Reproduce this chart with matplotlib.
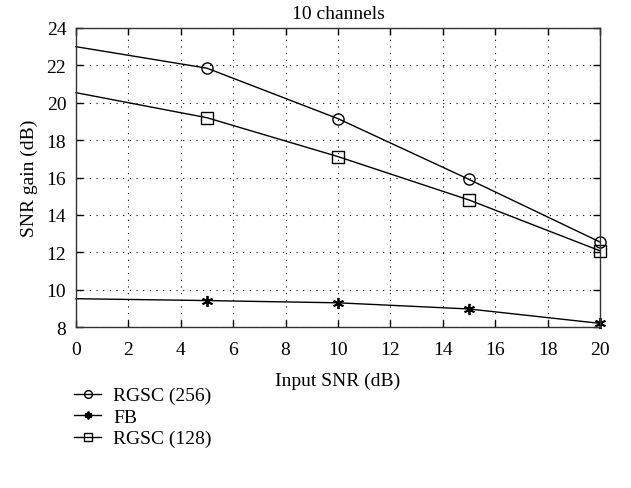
import matplotlib.pyplot as plt

plt.rcParams['font.family'] = ['Liberation Serif', 'DejaVu Serif']
plt.rcParams['font.size'] = 14

snr_in = [0, 5, 10, 15, 20]
rgsc256 = [23.0, 21.85, 19.15, 15.9, 12.55]
fb = [9.52, 9.42, 9.3, 8.97, 8.2]
rgsc128 = [20.54, 19.2, 17.12, 14.8, 12.08]

fig = plt.figure(figsize=(6.31, 4.89), dpi=100)
ax = fig.add_axes([0.1204, 0.329, 0.8306, 0.6117])

ax.plot(snr_in, rgsc256, color='black', lw=1, marker='o', ms=8, mfc='none',
        markevery=[1, 2, 3, 4], label='RGSC (256)', clip_on=False)
ax.plot(snr_in, fb, color='black', lw=1, marker=(6, 2, 0), ms=8, mew=1.3,
        markevery=[1, 2, 3, 4], label='FB', clip_on=False)
ax.plot(snr_in, rgsc128, color='black', lw=1, marker='s', ms=8, mfc='none',
        markevery=[1, 2, 3, 4], label='RGSC (128)', clip_on=False)

ax.set_xlim(0, 20)
ax.set_ylim(8, 24)
ax.set_xticks(range(0, 21, 2))
ax.set_yticks(range(8, 25, 2))
ax.grid(True, color='black', linestyle=(0, (1, 5)), linewidth=0.8)
ax.tick_params(direction='in', length=5, top=True, right=True, width=1, pad=7)
ax.tick_params(axis='x', pad=10)
for s in ax.spines.values():
    s.set_linewidth(1)
    s.set_color('#333333')

ax.set_title('10 channels', fontsize=14, pad=7)
ax.set_xlabel('Input SNR (dB)', labelpad=10)
ax.set_ylabel('SNR gain (dB)', labelpad=6)

fig.legend(loc='upper left', bbox_to_anchor=(0.105, 0.223), frameon=False,
           handlelength=1.4, handletextpad=0.6, labelspacing=0.2, markerscale=0.7,
           borderaxespad=0)

fig.savefig('out.png', dpi=100)
